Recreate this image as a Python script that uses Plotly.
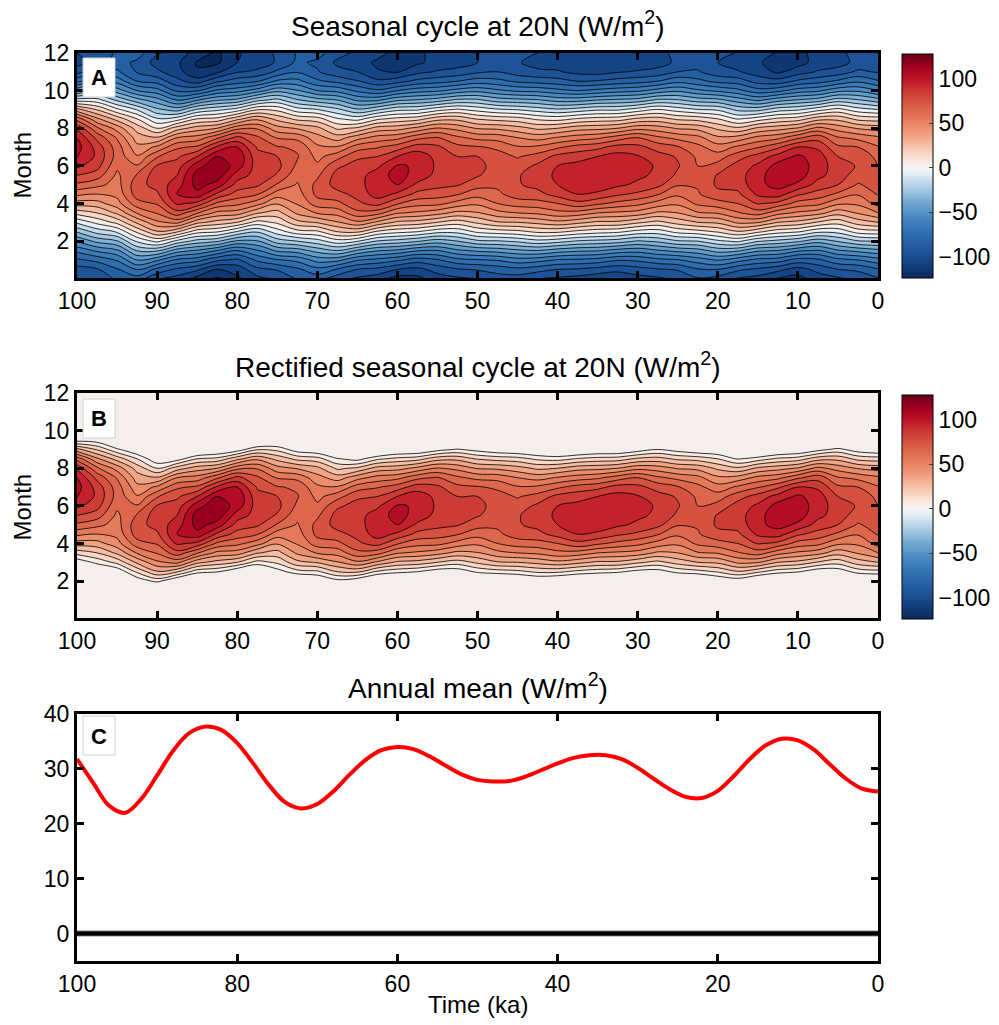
import numpy as np
import plotly.graph_objects as go

W, H = 999, 1025
FONT = "Liberation Sans, Arial, Helvetica, sans-serif"

# ---------------- data ----------------
ka = [100, 97.5, 95, 92.5, 90, 87.5, 85, 82.5, 80, 77.5, 75, 72.5, 70, 67.5, 65, 62.5, 60, 57.5, 55, 52.5,
      50, 47.5, 45, 42.5, 40, 37.5, 35, 32.5, 30, 27.5, 25, 22.5, 20, 17.5, 15, 12.5, 10, 7.5, 5, 2.5, 0]
month = [0, 0.5, 1, 1.5, 2, 2.5, 3, 3.5, 4, 4.5, 5, 5.5, 6, 6.5, 7, 7.5, 8, 8.5, 9, 9.5, 10, 10.5, 11, 11.5, 12]

# seasonal cycle at 20N (W/m2): one row per time (ka), one value per month
seasonal = [
    [-100, -94, -82, -67, -49, -29, -8, 14, 35, 53, 68, 80, 92, 101, 104, 100, 88, 66, 33, -5, -42, -73, -94, -104, -100],
    [-98, -91, -77, -58, -37, -16, 3, 20, 36, 50, 63, 75, 84, 88, 86, 77, 62, 42, 19, -6, -33, -60, -82, -95, -98],
    [-88, -81, -69, -52, -31, -9, 13, 32, 46, 53, 56, 58, 62, 66, 65, 59, 46, 26, 2, -22, -45, -64, -78, -86, -88],
    [-85, -69, -50, -29, -8, 12, 32, 51, 66, 75, 76, 71, 61, 51, 43, 35, 26, 10, -11, -36, -60, -80, -91, -92, -85],
    [-99, -83, -58, -28, 3, 29, 48, 61, 71, 78, 84, 86, 81, 69, 52, 31, 10, -9, -28, -46, -66, -84, -98, -104, -99],
    [-104, -92, -72, -45, -13, 21, 53, 76, 92, 100, 95, 90, 85, 78, 68, 50, 25, -5, -35, -61, -82, -97, -106, -108, -104],
    [-114, -98, -76, -51, -24, 4, 33, 61, 87, 107, 114, 115, 106, 90, 72, 54, 35, 10, -19, -51, -81, -105, -119, -121, -114],
    [-122, -110, -88, -60, -28, 1, 26, 47, 68, 88, 106, 116, 117, 110, 92, 68, 40, 13, -13, -41, -68, -92, -112, -122, -122],
    [-112, -106, -92, -70, -42, -11, 20, 45, 63, 76, 86, 95, 106, 109, 100, 83, 57, 27, -6, -37, -64, -85, -101, -110, -112],
    [-103, -93, -78, -61, -41, -19, 6, 31, 54, 71, 82, 86, 85, 83, 79, 72, 59, 38, 9, -23, -55, -81, -98, -105, -103],
    [-99, -89, -71, -48, -25, -5, 12, 26, 41, 55, 69, 79, 83, 80, 71, 59, 44, 27, 7, -17, -43, -68, -88, -99, -99],
    [-89, -82, -67, -45, -20, 6, 27, 42, 51, 55, 59, 63, 68, 71, 68, 57, 39, 17, -6, -29, -49, -67, -81, -88, -89],
    [-86, -73, -56, -36, -14, 8, 31, 51, 65, 73, 73, 68, 62, 57, 52, 44, 33, 14, -10, -36, -60, -78, -89, -92, -86],
    [-96, -81, -57, -30, -4, 20, 39, 54, 67, 77, 84, 84, 78, 66, 51, 35, 18, 1, -18, -40, -63, -83, -97, -102, -96],
    [-102, -90, -69, -41, -9, 22, 48, 67, 78, 83, 85, 86, 84, 78, 65, 46, 22, -4, -29, -52, -72, -89, -100, -105, -102],
    [-106, -93, -73, -49, -21, 8, 38, 64, 84, 95, 98, 95, 88, 80, 69, 54, 34, 8, -22, -52, -78, -98, -109, -112, -106],
    [-114, -100, -78, -52, -24, 3, 28, 51, 71, 88, 100, 104, 101, 90, 75, 57, 36, 13, -13, -42, -70, -94, -111, -118, -114],
    [-113, -103, -85, -59, -29, 0, 26, 48, 64, 77, 88, 96, 99, 96, 85, 67, 43, 16, -12, -39, -64, -87, -103, -112, -113],
    [-105, -96, -81, -60, -35, -7, 20, 44, 63, 75, 83, 87, 88, 87, 82, 71, 51, 26, -4, -35, -62, -84, -99, -106, -105],
    [-102, -91, -73, -52, -30, -7, 15, 37, 56, 71, 81, 86, 85, 80, 73, 62, 47, 27, 1, -28, -56, -80, -97, -104, -102],
    [-100, -89, -71, -48, -22, 2, 22, 39, 52, 64, 74, 81, 83, 80, 71, 57, 39, 19, -4, -28, -53, -75, -92, -100, -100],
    [-95, -86, -69, -46, -21, 5, 29, 47, 60, 68, 72, 75, 76, 74, 68, 56, 38, 16, -9, -35, -58, -77, -90, -97, -95],
    [-95, -83, -64, -42, -18, 7, 30, 50, 65, 75, 79, 79, 75, 69, 61, 50, 34, 14, -11, -37, -62, -82, -95, -99, -95],
    [-100, -86, -66, -40, -13, 12, 33, 52, 66, 77, 83, 85, 82, 74, 62, 46, 28, 8, -15, -39, -63, -84, -98, -104, -100],
    [-102, -90, -71, -45, -16, 12, 37, 57, 70, 84, 90, 92, 90, 83, 68, 51, 30, 6, -19, -44, -67, -86, -99, -105, -102],
    [-104, -91, -72, -48, -21, 7, 33, 56, 77, 90, 95, 96, 93, 86, 74, 55, 36, 11, -16, -44, -70, -90, -103, -108, -104],
    [-107, -94, -74, -49, -23, 4, 28, 50, 72, 88, 96, 98, 97, 90, 77, 58, 37, 14, -12, -40, -67, -89, -104, -110, -107],
    [-108, -97, -79, -54, -25, 2, 28, 48, 67, 82, 92, 98, 98, 94, 84, 65, 40, 15, -12, -38, -64, -86, -101, -109, -108],
    [-104, -94, -78, -56, -31, -4, 22, 46, 63, 78, 88, 92, 93, 91, 83, 70, 47, 22, -6, -36, -62, -84, -99, -106, -104],
    [-102, -91, -73, -51, -28, -5, 17, 38, 56, 71, 83, 88, 89, 84, 76, 62, 45, 24, 0, -28, -56, -80, -97, -104, -102],
    [-98, -89, -71, -47, -21, 3, 24, 40, 52, 62, 71, 78, 81, 79, 71, 57, 39, 18, -5, -29, -52, -73, -90, -98, -98],
    [-91, -81, -65, -44, -20, 6, 30, 49, 62, 69, 71, 71, 70, 68, 63, 53, 37, 16, -10, -35, -58, -77, -89, -94, -91],
    [-94, -80, -59, -36, -12, 11, 32, 51, 66, 77, 82, 81, 74, 65, 54, 42, 28, 10, -12, -37, -62, -83, -96, -100, -94],
    [-101, -88, -66, -38, -8, 19, 42, 59, 70, 78, 84, 86, 84, 76, 62, 44, 22, -1, -23, -45, -67, -85, -99, -105, -101],
    [-104, -92, -73, -48, -19, 12, 41, 65, 81, 92, 97, 96, 92, 84, 69, 53, 32, 5, -24, -52, -76, -94, -105, -108, -104],
    [-111, -97, -75, -50, -23, 4, 30, 54, 77, 95, 104, 107, 104, 94, 78, 57, 36, 12, -15, -44, -73, -96, -112, -117, -111],
    [-114, -104, -84, -58, -28, 1, 27, 48, 66, 82, 98, 105, 106, 102, 90, 68, 41, 15, -12, -39, -65, -88, -105, -114, -114],
    [-105, -97, -82, -61, -36, -8, 19, 44, 63, 76, 86, 93, 95, 95, 88, 76, 53, 26, -4, -35, -62, -84, -99, -106, -105],
    [-102, -90, -73, -51, -29, -7, 14, 34, 52, 68, 80, 85, 85, 80, 72, 61, 46, 27, 3, -25, -53, -78, -96, -104, -102],
    [-97, -88, -70, -47, -21, 4, 25, 41, 52, 61, 69, 75, 79, 78, 70, 57, 39, 17, -6, -29, -52, -72, -88, -97, -97],
    [-91, -81, -64, -43, -19, 6, 30, 50, 64, 71, 74, 73, 70, 67, 61, 52, 36, 15, -10, -36, -60, -79, -91, -95, -91],
]

# annual mean of the rectified cycle (W/m2)
time_c = [100, 98, 96, 94, 92, 90, 88, 86, 84, 82, 80, 78, 76, 74, 72, 70, 68, 66, 64, 62, 60,
          58, 56, 54, 52, 50, 48, 46, 44, 42, 40, 38, 36, 34, 32, 30, 28, 26, 24, 22, 20,
          18, 16, 14, 12, 10, 8, 6, 4, 2, 0]
annual_mean = [31.8, 27.5, 23.3, 22.0, 24.5, 28.8, 33.3, 36.5, 37.7, 37.1, 34.7, 31.0, 27.0, 23.9, 22.8,
               23.6, 25.9, 28.9, 31.6, 33.4, 34.0, 33.6, 32.3, 30.6, 29.0, 28.0, 27.7, 27.8, 28.6, 29.8,
               31.0, 32.0, 32.5, 32.5, 31.8, 30.2, 28.2, 26.3, 24.9, 24.7, 26.0, 28.7, 31.8, 34.3, 35.5,
               35.2, 33.5, 30.8, 28.2, 26.4, 25.9]

Z = np.array(seasonal, dtype=float).T  # rows = months, columns = ka

# ---------------- colours ----------------
anchors = [(-130, "#08234f"), (-115, "#0f3670"), (-100, "#1a4c91"), (-85, "#2560a3"), (-70, "#3274b3"),
           (-55, "#4a8ac1"), (-40, "#6fa6d0"), (-25, "#a3c8e3"), (-10, "#d8e8f3"), (0, "#f7f7f7"),
           (10, "#fae3d7"), (25, "#f6bfa5"), (40, "#ee9878"), (55, "#e57a5a"), (70, "#d95d45"),
           (85, "#cc3b35"), (100, "#be1427"), (112, "#a50022"), (130, "#5c0016")]


def h2r(h):
    return np.array([int(h[i:i + 2], 16) for i in (1, 3, 5)], float)


def col(v):
    vs = [a[0] for a in anchors]
    v = min(max(v, vs[0]), vs[-1])
    for i in range(len(vs) - 1):
        if vs[i] <= v <= vs[i + 1]:
            f = (v - vs[i]) / (vs[i + 1] - vs[i])
            c = h2r(anchors[i][1]) * (1 - f) + h2r(anchors[i + 1][1]) * f
            return "rgb(%d,%d,%d)" % tuple(np.round(c))


def band_scale(start, end, size, below=None):
    lo, hi = start - size / 2, end + size / 2
    vals = np.arange(lo, hi + 1e-9, size)
    out = []
    for v in vals:
        c = below if (below is not None and v < start) else col(v)
        out.append([(v - lo) / (hi - lo), c])
    return out


cmin, cmax = -124, 127.5
cont_scale = [[i / 100, col(cmin + (cmax - cmin) * i / 100)] for i in range(101)]

fig = go.Figure()
dom_x = [77 / W, 878 / W]


def ydom(top, bot):
    return [1 - bot / H, 1 - top / H]


def cbar(top, bot):
    return dict(x=902 / W, xanchor="left", xpad=0, thickness=31, thicknessmode="pixels",
                len=(bot - top) / H, lenmode="fraction", y=1 - (top + bot) / 2 / H, yanchor="middle",
                ypad=0, outlinewidth=1, outlinecolor="black", tickvals=[-100, -50, 0, 50, 100],
                ticks="inside", ticklen=4, tickcolor="#444",
                tickfont=dict(family=FONT, size=23, color="black"))


# Panel A: seasonal cycle
fig.add_trace(go.Contour(x=ka, y=month, z=Z, xaxis="x", yaxis="y", showscale=False,
                         colorscale=band_scale(-120, 120, 10), zmin=-125, zmax=125,
                         autocontour=False, contours=dict(start=-120, end=120, size=10, coloring="fill"),
                         line=dict(color="black", width=0.8, smoothing=1.0), hoverinfo="skip"))
fig.add_trace(go.Scatter(x=[None], y=[None], mode="markers", xaxis="x", yaxis="y", showlegend=False,
                         marker=dict(color=[0], colorscale=cont_scale, cmin=cmin, cmax=cmax, showscale=True,
                                     colorbar=cbar(54, 278))))
# Panel B: rectified seasonal cycle (everything below 0 drawn as the zero colour)
fig.add_trace(go.Contour(x=ka, y=month, z=Z, xaxis="x2", yaxis="y2", showscale=False,
                         colorscale=band_scale(0, 120, 10, below="#f4efec"), zmin=-5, zmax=125,
                         autocontour=False, contours=dict(start=0, end=120, size=10, coloring="fill"),
                         line=dict(color="black", width=0.8, smoothing=1.0), hoverinfo="skip"))
fig.add_trace(go.Scatter(x=[None], y=[None], mode="markers", xaxis="x2", yaxis="y2", showlegend=False,
                         marker=dict(color=[0], colorscale=cont_scale, cmin=cmin, cmax=cmax, showscale=True,
                                     colorbar=cbar(395, 619))))
# Panel C: annual mean
fig.add_trace(go.Scatter(x=[100, 0], y=[0, 0], mode="lines", xaxis="x3", yaxis="y3",
                         line=dict(color="#c4c4c4", width=7), showlegend=False, hoverinfo="skip"))
fig.add_trace(go.Scatter(x=[100, 0], y=[0, 0], mode="lines", xaxis="x3", yaxis="y3",
                         line=dict(color="black", width=4.5), showlegend=False, hoverinfo="skip"))
fig.add_trace(go.Scatter(x=time_c, y=annual_mean, mode="lines", xaxis="x3", yaxis="y3",
                         line=dict(color="#ff0000", width=4, shape="spline"), showlegend=False))

axcommon = dict(showline=True, linewidth=3, linecolor="black", mirror="ticks", ticks="inside",
                ticklen=7, tickwidth=2.5, tickcolor="black", showgrid=False, zeroline=False,
                tickfont=dict(family=FONT, size=23, color="black"))

fig.update_layout(
    width=W, height=H, margin=dict(l=0, r=0, t=0, b=0, autoexpand=False), paper_bgcolor="white",
    plot_bgcolor="white", font=dict(family=FONT, color="black"), showlegend=False,
    xaxis=dict(domain=dom_x, anchor="y", range=[100, 0], tickvals=list(range(0, 101, 10)), **axcommon),
    yaxis=dict(domain=ydom(53, 278), anchor="x", range=[0.04, 12.0], tickvals=[2, 4, 6, 8, 10, 12], **axcommon),
    xaxis2=dict(domain=dom_x, anchor="y2", range=[100, 0], tickvals=list(range(0, 101, 10)), **axcommon),
    yaxis2=dict(domain=ydom(393, 618), anchor="x2", range=[0.04, 12.0], tickvals=[2, 4, 6, 8, 10, 12], **axcommon),
    xaxis3=dict(domain=dom_x, anchor="y3", range=[100, 0], tickvals=list(range(0, 101, 20)), **axcommon),
    yaxis3=dict(domain=ydom(714, 961), anchor="x3", range=[-5, 40], tickvals=[0, 10, 20, 30, 40], **axcommon),
)

ann = []
for txt, y in [("Seasonal cycle at 20N (W/m<sup>2</sup>)", 24),
               ("Rectified seasonal cycle at 20N (W/m<sup>2</sup>)", 365),
               ("Annual mean (W/m<sup>2</sup>)", 686)]:
    ann.append(dict(text=txt, x=477.5 / W, y=1 - y / H, xref="paper", yref="paper", showarrow=False,
                    xanchor="center", yanchor="middle", font=dict(family=FONT, size=28, color="black")))
ann.append(dict(text="Time (ka)", x=477.5 / W, y=1 - 1004 / H, xref="paper", yref="paper", showarrow=False,
                xanchor="center", yanchor="middle", font=dict(family=FONT, size=24, color="black")))
for y in (165.5, 507.5):
    ann.append(dict(text="Month", x=22 / W, y=1 - y / H, xref="paper", yref="paper", showarrow=False,
                    textangle=-90, xanchor="center", yanchor="middle", font=dict(family=FONT, size=24, color="black")))
shapes = []
for lab, top in [("A", 58), ("B", 399), ("C", 716)]:
    shapes.append(dict(type="rect", xref="paper", yref="paper", x0=83 / W, x1=115 / W,
                       y0=1 - (top + 39) / H, y1=1 - top / H, fillcolor="white",
                       line=dict(color="#d0d0d0", width=1), layer="above"))
    ann.append(dict(text="<b>%s</b>" % lab, x=99 / W, y=1 - (top + 20) / H, xref="paper", yref="paper",
                    showarrow=False, xanchor="center", yanchor="middle",
                    font=dict(family=FONT, size=22, color="black")))
fig.update_layout(annotations=ann, shapes=shapes)
fig.write_html("out.html")
